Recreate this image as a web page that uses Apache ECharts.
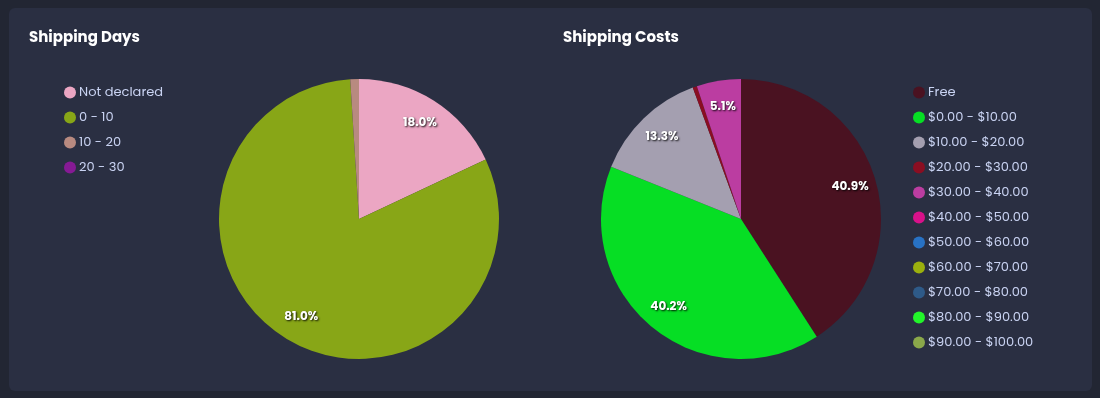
<!DOCTYPE html>
<html>
<head>
<meta charset="utf-8">
<script src="https://cdn.jsdelivr.net/npm/echarts@6/dist/echarts.min.js"></script>
<style>
html,body{margin:0;padding:0;background:#222633;}
#c{width:1100px;height:398px;}
</style>
</head>
<body>
<div id="c"></div>
<script>
const dayCategories = ['Not declared', '0 - 10', '10 - 20', '20 - 30'];
const dayValues = [18.0, 81.0, 1.0, 0];
const dayColors = ['#eba6c3', '#88a617', '#b88a80', '#861a94'];

const costCategories = ['Free', '$0.00 - $10.00', '$10.00 - $20.00', '$20.00 - $30.00', '$30.00 - $40.00', '$40.00 - $50.00', '$50.00 - $60.00', '$60.00 - $70.00', '$70.00 - $80.00', '$80.00 - $90.00', '$90.00 - $100.00'];
const costValues = [40.9, 40.2, 13.3, 0.5, 5.1, 0, 0, 0, 0, 0, 0];
const costColors = ['#4a1221', '#06de24', '#a49fb0', '#8a0e22', '#bb3da1', '#d8118a', '#2872c4', '#9bb00e', '#2e5a88', '#22f52a', '#8aa84a'];

const FONT = "Poppins, 'Open Sans', Lato, sans-serif";
const R = 140;

function mk(names, vals, colors) {
  return names.map((n, i) => ({ name: n, value: vals[i], itemStyle: { color: colors[i] } }));
}
function mkOverlay(names, vals) {
  return names.map((n, i) => ({ name: n, value: vals[i], itemStyle: { color: 'rgba(0,0,0,0)' } }));
}
const labelStyle = {
  show: true, position: 'inside', formatter: p => p.percent.toFixed(1) + '%',
  color: '#ffffff', fontFamily: FONT, fontWeight: 'bold', fontSize: 12,
  textShadowColor: 'rgba(0,0,0,0.9)', textShadowBlur: 2, textShadowOffsetX: 1, textShadowOffsetY: 1
};
function mainPie(center, data) {
  return { type: 'pie', center: center, radius: [0, R], startAngle: 90, clockwise: true,
    data: data, label: { show: false }, labelLine: { show: false }, silent: true,
    itemStyle: { borderWidth: 0 }, emphasis: { disabled: true }, animation: false };
}
function overlayPie(center, data) {
  return { type: 'pie', center: center, radius: [R * 0.58, R], startAngle: 90, clockwise: true,
    data: data, percentPrecision: 1, minShowLabelAngle: 4, label: labelStyle, labelLine: { show: false },
    silent: true, emphasis: { disabled: true }, animation: false, z: 5 };
}
const legendText = { color: '#c9d3f2', fontFamily: FONT, fontSize: 13, padding: [0, 0, 0, -2] };

const chart = echarts.init(document.getElementById('c'));
chart.setOption({
  backgroundColor: '#222633',
  animation: false,
  graphic: [{ type: 'rect', shape: { x: 9, y: 8, width: 1083, height: 383, r: 6 }, style: { fill: '#2a2f42' }, z: -10 }],
  title: [
    { text: 'Shipping Days', left: 24, top: 26, textStyle: { color: '#ffffff', fontFamily: FONT, fontWeight: 'bold', fontSize: 15 } },
    { text: 'Shipping Costs', left: 558, top: 26, textStyle: { color: '#ffffff', fontFamily: FONT, fontWeight: 'bold', fontSize: 15 } }
  ],
  legend: [
    { orient: 'vertical', left: 59, top: 81, icon: 'circle', itemWidth: 12, itemHeight: 12, itemGap: 12,
      data: dayCategories, textStyle: legendText, selectedMode: false },
    { orient: 'vertical', left: 908, top: 81, icon: 'circle', itemWidth: 12, itemHeight: 12, itemGap: 12,
      data: costCategories, textStyle: legendText, selectedMode: false }
  ],
  series: [
    mainPie([359, 219], mk(dayCategories, dayValues, dayColors)),
    mainPie([741, 219], mk(costCategories, costValues, costColors)),
    overlayPie([359, 219], mkOverlay(dayCategories, dayValues)),
    overlayPie([741, 219], mkOverlay(costCategories, costValues))
  ]
});
</script>
</body>
</html>
